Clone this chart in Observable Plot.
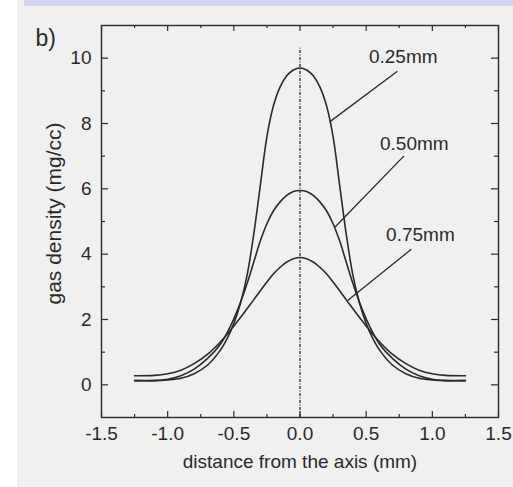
<!DOCTYPE html>
<html><head><meta charset="utf-8">
<script src="https://cdn.jsdelivr.net/npm/d3@7"></script>
<script src="https://cdn.jsdelivr.net/npm/@observablehq/plot@0.6"></script>
<style>
body{margin:0;background:#fff;}
#paper{position:absolute;left:17px;top:0;width:496px;height:487px;background:#f0f0ef;}
#band{position:absolute;left:24px;top:0;width:489px;height:6px;background:#d3d3f3;}
#chart{position:absolute;left:0;top:0;}
</style></head><body>
<div id="paper"></div><div id="band"></div><div id="chart"></div>
<script>
// distance from the axis (mm)
const distance = [-1.25,-1.1,-1.0,-0.9,-0.8,-0.7,
  -0.6,-0.55,-0.5,-0.45,-0.4,-0.35,-0.3,-0.25,-0.2,-0.15,-0.1,-0.05,0,
  0.05,0.1,0.15,0.2,0.25,0.3,0.35,0.4,0.45,0.5,0.55,0.6,
  0.7,0.8,0.9,1.0,1.1,1.25];
// gas density (mg/cc) for each nozzle size
const density025 = [0.13,0.13,0.15,0.2,0.34,0.6,
  1.07,1.42,1.88,2.5,3.35,4.6,6.1,7.6,8.55,9.12,9.46,9.64,9.7,
  9.64,9.46,9.12,8.55,7.6,6.1,4.6,3.35,2.5,1.88,1.42,1.07,
  0.6,0.34,0.2,0.15,0.13,0.13];
const density050 = [0.13,0.13,0.17,0.28,0.48,0.8,
  1.25,1.6,2.02,2.52,3.1,3.75,4.4,4.93,5.33,5.6,5.8,5.92,5.95,
  5.92,5.8,5.6,5.33,4.93,4.4,3.75,3.1,2.52,2.02,1.6,1.25,
  0.8,0.48,0.28,0.17,0.13,0.13];
const density075 = [0.28,0.29,0.34,0.45,0.65,0.93,
  1.32,1.55,1.8,2.06,2.33,2.6,2.88,3.15,3.4,3.6,3.76,3.86,3.9,
  3.86,3.76,3.6,3.4,3.15,2.88,2.6,2.33,2.06,1.8,1.55,1.32,
  0.93,0.65,0.45,0.34,0.29,0.28];
const seriesNames = ["0.25mm","0.50mm","0.75mm"];
// label positions and pointer lines (data units)
const labelX = [0.78,0.864,0.91];
const labelY = [10.05,7.38,4.58];
const pointerFromX = [0.224,0.265,0.36];
const pointerFromY = [8.05,4.83,2.58];
const pointerToX = [0.736,0.786,0.841];
const pointerToY = [9.6,7.01,4.15];
// ticks
const xTicks = [-1.5,-1.0,-0.5,0.0,0.5,1.0,1.5];
const xMinor = [-1.25,-0.75,-0.25,0.25,0.75,1.25];
const yTicks = [0,2,4,6,8,10];
const yMinor = [1,3,5,7,9];
const axisLineY = [-1,10.3];

const allY = [density025, density050, density075];
const rows = [];
seriesNames.forEach((s,i)=>distance.forEach((x,j)=>rows.push({series:s,x,y:allY[i][j]})));
const labels = seriesNames.map((s,i)=>({s,x:labelX[i],y:labelY[i],x1:pointerFromX[i],y1:pointerFromY[i],x2:pointerToX[i],y2:pointerToY[i]}));

const W=513,H=487,mL=101,mR=15,mT=25,mB=70;
const pw=W-mL-mR, ph=H-mT-mB;
const ink="#2a2a2a";
const font="'Liberation Sans', Arial, sans-serif";

const chart = Plot.plot({
  width:W,height:H,marginLeft:mL,marginRight:mR,marginTop:mT,marginBottom:mB,
  style:{background:"transparent",fontFamily:font,fontSize:"19px",color:ink},
  x:{domain:[-1.5,1.5],axis:null},
  y:{domain:[-1,11],axis:null},
  marks:[
    Plot.text(xTicks,{x:d=>d,frameAnchor:"bottom",dy:16,text:d=>d.toFixed(1),fill:ink,fontSize:19,lineAnchor:"middle"}),
    Plot.text(yTicks,{y:d=>d,frameAnchor:"left",dx:-10,text:d=>String(d),fill:ink,fontSize:19,textAnchor:"end"}),
    Plot.tickX(xTicks,{x:d=>d,insetTop:ph-6,stroke:ink,strokeWidth:1.2}),
    Plot.tickX(xMinor,{x:d=>d,insetTop:ph-3,stroke:ink,strokeWidth:1.2}),
    Plot.tickX(xTicks,{x:d=>d,insetBottom:ph-6,stroke:ink,strokeWidth:1.2}),
    Plot.tickX(xMinor,{x:d=>d,insetBottom:ph-3,stroke:ink,strokeWidth:1.2}),
    Plot.tickY(yTicks,{y:d=>d,insetRight:pw-7,stroke:ink,strokeWidth:1.2}),
    Plot.tickY(yMinor,{y:d=>d,insetRight:pw-4,stroke:ink,strokeWidth:1.2}),
    Plot.tickY(yTicks,{y:d=>d,insetLeft:pw-7,stroke:ink,strokeWidth:1.2}),
    Plot.tickY(yMinor,{y:d=>d,insetLeft:pw-4,stroke:ink,strokeWidth:1.2}),
    Plot.ruleX([0],{y1:axisLineY[0],y2:axisLineY[1],stroke:ink,strokeWidth:1.3,strokeDasharray:"3,1.5,1,1.5"}),
    Plot.line(rows,{x:"x",y:"y",z:"series",curve:"catmull-rom",stroke:ink,strokeWidth:1.6}),
    Plot.link(labels,{x1:"x1",y1:"y1",x2:"x2",y2:"y2",stroke:ink,strokeWidth:1.3}),
    Plot.text(labels,{x:"x",y:"y",text:"s",fill:ink,fontSize:19}),
    Plot.frame({stroke:ink,strokeWidth:1.4}),
    Plot.text(["distance from the axis (mm)"],{frameAnchor:"bottom",dy:50,fill:ink,fontSize:19}),
    Plot.text(["gas density (mg/cc)"],{frameAnchor:"left",dx:-47,dy:-8,rotate:-90,textAnchor:"middle",fill:ink,fontSize:21,letterSpacing:"2px"}),
    Plot.text(["b)"],{frameAnchor:"top-left",dx:-66,dy:4,fill:ink,fontSize:23})
  ]
});
document.getElementById("chart").appendChild(chart);
</script>
</body></html>
